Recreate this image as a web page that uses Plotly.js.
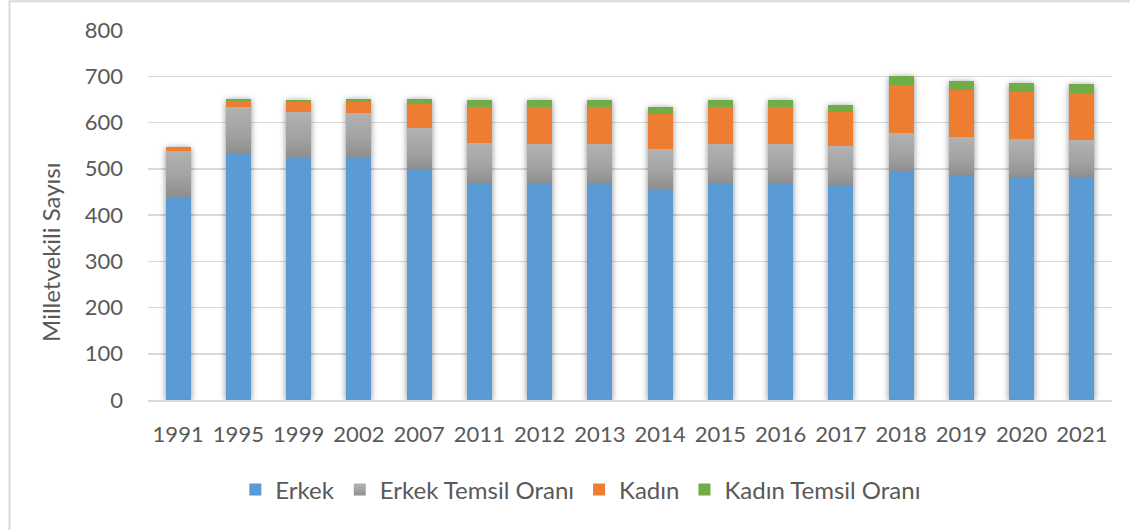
<!DOCTYPE html>
<html>
<head>
<meta charset="utf-8">
<script src="https://cdn.plot.ly/plotly-3.0.1.min.js"></script>
<style>
  html, body { margin: 0; padding: 0; background: #ffffff; }
  #chart { width: 1130px; height: 530px; }
  .barlayer { filter: drop-shadow(0px 1px 3px rgba(0,0,0,0.45)); }
</style>
</head>
<body>
<div id="chart"></div>
<script>
const years = ['1991','1995','1999','2002','2007','2011','2012','2013','2014','2015','2016','2017','2018','2019','2020','2021'];
const erkek      = [440, 534, 525, 524, 498, 468, 467, 467, 456, 467, 467, 463, 494, 485, 480, 480];
const erkekOrani = [98.2, 99.5, 97.5, 97.5, 90, 87, 86.5, 86.5, 86.5, 86.5, 86.5, 86, 83, 84, 84, 81.5];
const kadin      = [8, 13, 21.5, 22.5, 52, 77.5, 80, 80, 76, 80, 80, 74, 104, 102, 102.5, 102];
const kadinOrani = [1.8, 4, 4.5, 7, 11, 15.5, 15, 15, 15, 15, 15, 15, 19, 19, 19, 19.5];

const seriesNames = ['Erkek', 'Erkek Temsil Oranı', 'Kadın', 'Kadın Temsil Oranı'];
const seriesColors = ['#5b9bd5', '#a5a5a5', '#ed7d31', '#70ad47'];
const seriesValues = [erkek, erkekOrani, kadin, kadinOrani];
const yTitle = 'Milletvekili Sayısı';

const traces = seriesValues.map((vals, i) => ({
  type: 'bar',
  name: seriesNames[i],
  x: years,
  y: vals,
  marker: { color: seriesColors[i], line: { width: 0 } },
  hoverinfo: 'skip'
}));

const font = 'Lato, "Open Sans", "DejaVu Sans", sans-serif';
const fs = 22;

const layout = {
  width: 1130,
  height: 530,
  margin: { l: 148, r: 18, t: 30, b: 130 },
  paper_bgcolor: '#ffffff',
  plot_bgcolor: '#ffffff',
  barmode: 'stack',
  bargap: 0.585,
  showlegend: true,
  font: { family: font, color: '#595959', size: fs },
  xaxis: {
    type: 'category',
    showgrid: false,
    showline: true,
    linecolor: '#d9d9d9',
    linewidth: 2,
    ticks: '',
    ticklabelstandoff: 14,
    tickfont: { family: font, size: fs, color: '#595959' },
    fixedrange: true
  },
  yaxis: {
    range: [0, 800],
    dtick: 100,
    tick0: 0,
    showgrid: true,
    gridcolor: '#d9d9d9',
    gridwidth: 1.5,
    zeroline: false,
    showline: false,
    ticks: '',
    ticklabelstandoff: 24,
    tickfont: { family: font, size: fs, color: '#595959' },
    fixedrange: true
  },
  annotations: [{
    text: yTitle,
    xref: 'paper', yref: 'paper',
    x: -0.1017, y: 0.4,
    xanchor: 'center', yanchor: 'middle',
    textangle: -90,
    showarrow: false,
    font: { family: font, size: 24, color: '#595959' }
  }],
  legend: {
    orientation: 'h',
    x: 0.449,
    xanchor: 'center',
    y: -0.243,
    yanchor: 'middle',
    font: { family: font, size: 24, color: '#595959' },
    itemsizing: 'constant',
    itemwidth: 30,
    traceorder: 'normal'
  },
  shapes: [{
    type: 'rect', xref: 'paper', yref: 'paper',
    x0: -0.1437, x1: 1.03, y0: -0.37, y1: 1.078,
    line: { color: '#d9d9d9', width: 2 },
    fillcolor: 'rgba(0,0,0,0)',
    layer: 'below'
  }]
};

Plotly.newPlot('chart', traces, layout, { displayModeBar: false, staticPlot: true }).then(gd => {
  const svg = gd.querySelector('svg.main-svg');
  const ns = 'http://www.w3.org/2000/svg';
  let defs = svg.querySelector('defs');
  if (!defs) { defs = document.createElementNS(ns, 'defs'); svg.insertBefore(defs, svg.firstChild); }
  const grad = document.createElementNS(ns, 'linearGradient');
  grad.setAttribute('id', 'grayGrad');
  grad.setAttribute('x1', '0'); grad.setAttribute('y1', '0');
  grad.setAttribute('x2', '0'); grad.setAttribute('y2', '1');
  [['0%', '#b2b2b2'], ['55%', '#a3a3a3'], ['100%', '#8e8e8e']].forEach(([o, c]) => {
    const s = document.createElementNS(ns, 'stop');
    s.setAttribute('offset', o); s.setAttribute('stop-color', c);
    grad.appendChild(s);
  });
  defs.appendChild(grad);
  const barTraces = gd.querySelectorAll('.barlayer .trace.bars');
  if (barTraces[1]) {
    barTraces[1].querySelectorAll('.point path').forEach(p => { p.style.fill = 'url(#grayGrad)'; });
  }
  const legendItems = gd.querySelectorAll('.legend .traces');
  if (legendItems[1]) {
    legendItems[1].querySelectorAll('path').forEach(p => { p.style.fill = 'url(#grayGrad)'; });
  }
});
</script>
</body>
</html>
